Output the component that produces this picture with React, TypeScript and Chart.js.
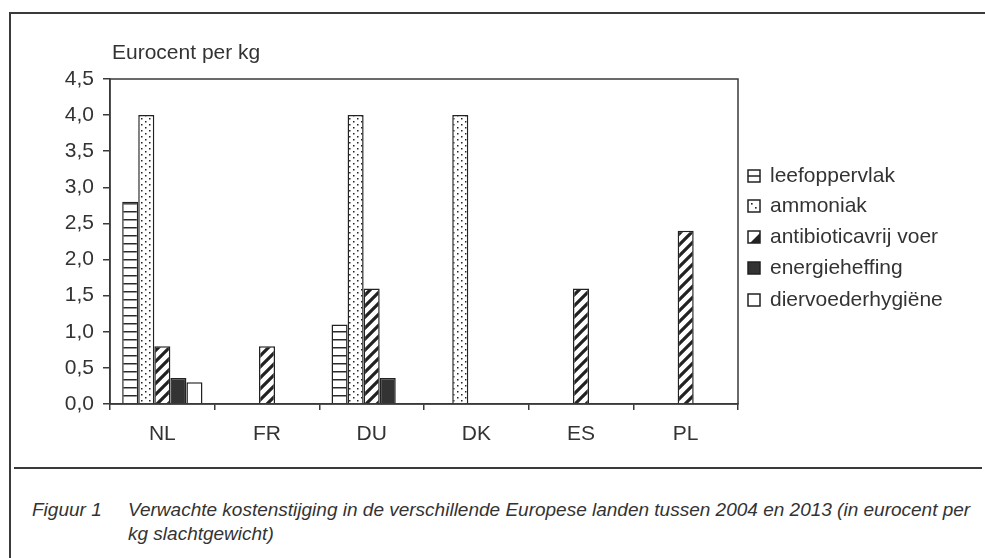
import React, { useEffect, useRef } from 'react';
import { Chart, registerables } from 'chart.js';

Chart.register(...registerables);

const categories = ['NL', 'FR', 'DU', 'DK', 'ES', 'PL'];
const leefoppervlak = [2.8, null, 1.1, null, null, null];
const ammoniak = [4.0, null, 4.0, 4.0, null, null];
const antibioticavrijVoer = [0.8, 0.8, 1.6, null, 1.6, 2.4];
const energieheffing = [0.36, null, 0.36, null, null, null];
const diervoederhygiene = [0.3, null, null, null, null, null];
const seriesNames = ['leefoppervlak', 'ammoniak', 'antibioticavrij voer', 'energieheffing', 'diervoederhygiëne'];
const yMin = 0;
const yMax = 4.5;
const yStep = 0.5;
const axisTitle = 'Eurocent per kg';
const captionLabel = 'Figuur 1';
const captionLines = [
  'Verwachte kostenstijging in de verschillende Europese landen tussen 2004 en 2013 (in eurocent per',
  'kg slachtgewicht)',
];

const FONT = "'Liberation Sans', Arial, sans-serif";
const TEXT = '#333333';
const LINE = '#3a3a3a';

function tile(w: number, h: number, draw: (c: CanvasRenderingContext2D) => void) {
  const c = document.createElement('canvas');
  c.width = w;
  c.height = h;
  const ctx = c.getContext('2d')!;
  ctx.fillStyle = '#ffffff';
  ctx.fillRect(0, 0, w, h);
  draw(ctx);
  return c;
}

export default function App() {
  const canvasRef = useRef<HTMLCanvasElement | null>(null);

  useEffect(() => {
    const canvas = canvasRef.current!;
    const ctx0 = canvas.getContext('2d')!;

    const hTile = tile(8, 8, (c) => {
      c.fillStyle = '#2a2a2a';
      c.fillRect(0, 3, 8, 1.5);
    });
    const dTile = tile(8, 6, (c) => {
      c.fillStyle = '#222';
      c.fillRect(1, 1, 1.5, 1.5);
      c.fillRect(5, 4, 1.5, 1.5);
    });
    const p = 11;
    const sTile = tile(p, p, (c) => {
      c.strokeStyle = '#222';
      c.lineWidth = 3.2;
      c.beginPath();
      c.moveTo(-2, p + 2);
      c.lineTo(p + 2, -2);
      c.moveTo(-3, 3);
      c.lineTo(3, -3);
      c.moveTo(p - 3, p + 3);
      c.lineTo(p + 3, p - 3);
      c.stroke();
    });
    const hPat = ctx0.createPattern(hTile, 'repeat')!;
    const dPat = ctx0.createPattern(dTile, 'repeat')!;
    const sPat = ctx0.createPattern(sTile, 'repeat')!;

    const fills: any[] = [hPat, dPat, sPat, '#333333', '#ffffff'];
    const values = [leefoppervlak, ammoniak, antibioticavrijVoer, energieheffing, diervoederhygiene];

    const decorPlugin = {
      id: 'decor',
      afterDraw(chart: any) {
        const { ctx, chartArea } = chart;
        ctx.save();
        // plot box
        ctx.strokeStyle = LINE;
        ctx.lineWidth = 1.5;
        ctx.strokeRect(chartArea.left, chartArea.top, chartArea.right - chartArea.left, chartArea.bottom - chartArea.top);
        // axis title
        ctx.fillStyle = TEXT;
        ctx.font = `21px ${FONT}`;
        ctx.textAlign = 'left';
        ctx.textBaseline = 'middle';
        ctx.fillText(axisTitle, 112, 53);
        // legend
        const rows = [176, 206, 237, 268, 300];
        const bx = 748;
        const bs = 12;
        seriesNames.forEach((name, i) => {
          const cy = rows[i];
          const by = cy - bs / 2;
          ctx.fillStyle = i === 3 ? '#333' : '#fff';
          ctx.fillRect(bx, by, bs, bs);
          ctx.fillStyle = '#222';
          if (i === 0) {
            ctx.fillRect(bx, cy - 0.75, bs, 1.5);
          } else if (i === 1) {
            ctx.fillRect(bx + 3, by + 3, 1.6, 1.6);
            ctx.fillRect(bx + 7, by + 7, 1.6, 1.6);
          } else if (i === 2) {
            ctx.beginPath();
            ctx.moveTo(bx + bs, by + 2);
            ctx.lineTo(bx + bs, by + bs);
            ctx.lineTo(bx + 2, by + bs);
            ctx.closePath();
            ctx.fill();
          }
          ctx.strokeStyle = '#222';
          ctx.lineWidth = 1.5;
          ctx.strokeRect(bx, by, bs, bs);
          ctx.fillStyle = TEXT;
          ctx.font = `21px ${FONT}`;
          ctx.textAlign = 'left';
          ctx.textBaseline = 'middle';
          ctx.fillText(name, 770, cy);
        });
        ctx.restore();
      },
    };

    const chart = new Chart(canvas, {
      type: 'bar',
      data: {
        labels: categories,
        datasets: seriesNames.map((name, i) => ({
          label: name,
          data: values[i] as any,
          backgroundColor: fills[i],
          borderColor: '#222',
          borderWidth: 1.5,
          categoryPercentage: 0.767,
          barPercentage: 1,
        })),
      },
      options: {
        animation: false,
        responsive: true,
        maintainAspectRatio: false,
        layout: { padding: { left: 50, top: 79, right: 247, bottom: 16 } },
        plugins: {
          legend: { display: false },
          tooltip: { enabled: false },
          title: { display: false },
        },
        scales: {
          x: {
            grid: {
              offset: true,
              drawOnChartArea: false,
              drawTicks: true,
              tickLength: 6,
              color: LINE,
              lineWidth: 1.5,
            },
            border: { display: true, color: LINE, width: 1.5 },
            ticks: { font: { family: FONT, size: 21 }, color: TEXT, padding: 12 },
            afterFit: (s: any) => {
              s.height = 40;
            },
          },
          y: {
            min: yMin,
            max: yMax,
            grid: {
              drawOnChartArea: false,
              drawTicks: true,
              tickLength: 7,
              color: LINE,
              lineWidth: 1.5,
            },
            border: { display: true, color: LINE, width: 1.5 },
            ticks: {
              stepSize: yStep,
              font: { family: FONT, size: 21 },
              color: TEXT,
              padding: 9,
              callback: (v: any) => Number(v).toFixed(1).replace('.', ','),
            },
            afterFit: (s: any) => {
              s.width = 60;
            },
          },
        },
      },
      plugins: [decorPlugin],
    });
    return () => chart.destroy();
  }, []);

  return (
    <div style={{ position: 'absolute', left: 0, top: 0, width: 985, height: 558, overflow: 'hidden', background: '#fff' }}>
      <div
        style={{
          position: 'absolute',
          left: 9,
          top: 12,
          width: 1100,
          height: 700,
          border: `2px solid ${LINE}`,
          boxSizing: 'border-box',
        }}
      />
      <div style={{ position: 'absolute', left: 0, top: 0, width: 985, height: 460 }}>
        <canvas ref={canvasRef} />
      </div>
      <div style={{ position: 'absolute', left: 14, top: 467, width: 968, height: 2, background: LINE }} />
      <div
        style={{
          position: 'absolute',
          left: 32,
          top: 498,
          fontFamily: FONT,
          fontStyle: 'italic',
          fontSize: 19,
          color: TEXT,
          lineHeight: '24px',
          whiteSpace: 'nowrap',
        }}
      >
        {captionLabel}
      </div>
      <div
        style={{
          position: 'absolute',
          left: 128,
          top: 498,
          fontFamily: FONT,
          fontStyle: 'italic',
          fontSize: 19,
          color: TEXT,
          lineHeight: '24px',
          whiteSpace: 'nowrap',
        }}
      >
        {captionLines.map((l, i) => (
          <div key={i}>{l}</div>
        ))}
      </div>
    </div>
  );
}
